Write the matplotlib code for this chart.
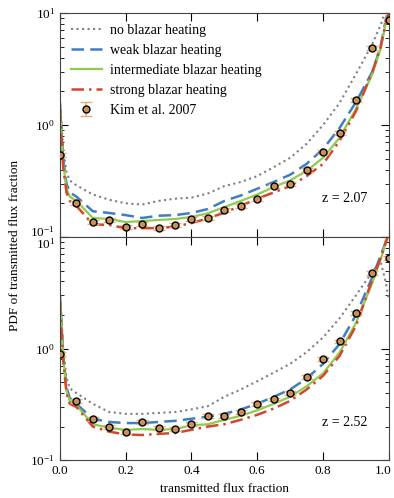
import matplotlib
matplotlib.use('Agg')
import matplotlib.pyplot as plt
import matplotlib.transforms as mtransforms
import numpy as np

plt.rcParams['font.family'] = ['Liberation Serif', 'DejaVu Serif']
plt.rcParams['mathtext.fontset'] = 'stix'
plt.rcParams['font.size'] = 9.5

# flux grid for the simulation curves
xs = [0.0, 0.01, 0.02, 0.03, 0.05, 0.1, 0.15, 0.2, 0.25, 0.3, 0.35, 0.4, 0.45,
      0.5, 0.55, 0.6, 0.65, 0.7, 0.75, 0.8, 0.85, 0.9, 0.95, 0.975, 0.99, 1.0]

# z = 2.07
top_none = [1.7, 0.6, 0.38, 0.32, 0.29, 0.24, 0.215, 0.2, 0.195, 0.21, 0.22, 0.225, 0.245,
            0.285, 0.31, 0.35, 0.42, 0.51, 0.68, 1.0, 1.57, 2.85, 5.3, 7.8, 10.5, 12.0]
top_weak = [1.6, 0.5, 0.3, 0.25, 0.23, 0.17, 0.164, 0.157, 0.148, 0.155, 0.157, 0.164, 0.178,
            0.21, 0.235, 0.27, 0.31, 0.36, 0.45, 0.61, 0.94, 1.6, 3.0, 5.0, 8.5, 11.0]
top_inter = [1.5, 0.45, 0.27, 0.23, 0.21, 0.148, 0.145, 0.136, 0.139, 0.142, 0.145, 0.151, 0.163,
             0.185, 0.21, 0.24, 0.28, 0.32, 0.39, 0.51, 0.77, 1.39, 2.85, 4.8, 8.0, 10.5]
top_strong = [1.4, 0.42, 0.25, 0.21, 0.19, 0.13, 0.128, 0.12, 0.12, 0.12, 0.124, 0.133, 0.147,
              0.165, 0.19, 0.22, 0.25, 0.285, 0.35, 0.45, 0.72, 1.33, 3.0, 5.0, 8.0, 10.0]

# z = 2.52
bot_none = [3.3, 1.0, 0.55, 0.44, 0.40, 0.32, 0.27, 0.26, 0.26, 0.265, 0.27, 0.285, 0.305,
            0.37, 0.43, 0.51, 0.61, 0.73, 0.93, 1.26, 1.87, 3.0, 4.9, 6.0, 4.0, 2.7]
bot_weak = [3.0, 0.9, 0.45, 0.36, 0.32, 0.235, 0.22, 0.215, 0.215, 0.22, 0.225, 0.235, 0.245,
            0.26, 0.285, 0.32, 0.37, 0.43, 0.54, 0.73, 1.1, 2.0, 4.4, 6.8, 9.0, 11.0]
bot_inter = [2.8, 0.85, 0.42, 0.34, 0.31, 0.21, 0.195, 0.187, 0.19, 0.187, 0.19, 0.205, 0.21,
             0.23, 0.25, 0.28, 0.32, 0.37, 0.46, 0.60, 0.92, 1.7, 3.9, 6.3, 8.8, 11.0]
bot_strong = [2.6, 0.8, 0.40, 0.32, 0.30, 0.20, 0.18, 0.17, 0.168, 0.172, 0.175, 0.187, 0.2,
              0.21, 0.23, 0.255, 0.29, 0.34, 0.43, 0.57, 0.86, 1.6, 4.2, 6.5, 8.8, 11.0]

# Kim et al. 2007 data points
kx = [0.0, 0.05, 0.1, 0.15, 0.2, 0.25, 0.3, 0.35, 0.4, 0.45, 0.5, 0.55, 0.6, 0.65, 0.7,
      0.75, 0.8, 0.85, 0.9, 0.95, 1.0]
kim_top = [0.54, 0.20, 0.136, 0.142, 0.123, 0.131, 0.12, 0.128, 0.145, 0.148, 0.174, 0.19,
           0.22, 0.285, 0.30, 0.40, 0.57, 0.85, 1.67, 4.9, 8.7]
kim_bot = [0.9, 0.34, 0.235, 0.2, 0.18, 0.22, 0.195, 0.19, 0.21, 0.25, 0.25, 0.27, 0.32,
           0.35, 0.40, 0.56, 0.81, 1.16, 2.1, 4.8, 6.5]

gray = '#7f7f7f'
blue = '#3f7fc1'
green = '#8ccd4f'
red = '#d4472c'
dot_face = '#c8915a'
err_col = '#e6b07a'

fig = plt.figure(figsize=(3.94, 4.98), dpi=100)
ax1 = fig.add_axes([0.152, 0.524, 0.835, 0.45])
ax2 = fig.add_axes([0.152, 0.076, 0.835, 0.448], sharex=ax1)

panels = [(ax1, top_none, top_weak, top_inter, top_strong, kim_top, 'z = 2.07', 0.174),
          (ax2, bot_none, bot_weak, bot_inter, bot_strong, kim_bot, 'z = 2.52', 0.167)]

for ax, n, w, i, s, k, lab, ly in panels:
    ax.plot(xs, n, color=gray, ls=':', lw=1.5, label='no blazar heating')
    ax.plot(xs, w, color=blue, ls=(0, (5, 2.5)), lw=1.8, label='weak blazar heating')
    ax.plot(xs, i, color=green, ls='-', lw=1.6, label='intermediate blazar heating')
    ax.plot(xs, s, color=red, ls=(0, (5, 2, 1, 2)), lw=1.8, label='strong blazar heating')
    kerr = [v * 0.04 for v in k]
    ax.errorbar(kx, k, yerr=kerr, fmt='o', ms=5, mfc=dot_face, mec='black', mew=1.0,
                ecolor=err_col, elinewidth=1.2, capsize=4, capthick=1.2,
                label='Kim et al. 2007', zorder=5)
    ax.set_yscale('log')
    ax.set_ylim(0.1, 10)
    ax.set_xlim(0, 1)
    ax.set_yticks([0.1, 1, 10])
    ax.text(0.935, ly, lab, transform=ax.transAxes, ha='right',
            va='center', fontsize=10)
    ax.tick_params(which='both', direction='in', top=True, right=True)
    ax.tick_params(which='major', length=6)
    ax.tick_params(which='minor', length=3)
    for sp in ax.spines.values():
        sp.set_color('#444444')

plt.setp(ax1.get_xticklabels(), visible=False)
ax2.set_xticks([0.0, 0.2, 0.4, 0.6, 0.8, 1.0])
ax2.set_xlabel('transmitted flux fraction', fontsize=9.5)
fig.text(0.038, 0.508, 'PDF of transmitted flux fraction', rotation=90, ha='center',
         va='center', fontsize=9.5)

ax1.legend(loc='upper left', frameon=False, fontsize=10, handlelength=2.2,
           handletextpad=0.6, labelspacing=0.5, borderaxespad=0.4)

# nudge the touching labels apart a little
fig.canvas.draw()
up = mtransforms.ScaledTranslation(0, 6 / 100, fig.dpi_scale_trans)
down = mtransforms.ScaledTranslation(0, -6 / 100, fig.dpi_scale_trans)
left = mtransforms.ScaledTranslation(-6 / 100, 0, fig.dpi_scale_trans)
lbl = ax1.get_yticklabels()[0]
lbl.set_transform(lbl.get_transform() + up)
lbl = ax2.get_yticklabels()[-1]
lbl.set_transform(lbl.get_transform() + down)
lbl = ax2.get_xticklabels()[-1]
lbl.set_transform(lbl.get_transform() + left)

fig.savefig('out.png', dpi=100)
